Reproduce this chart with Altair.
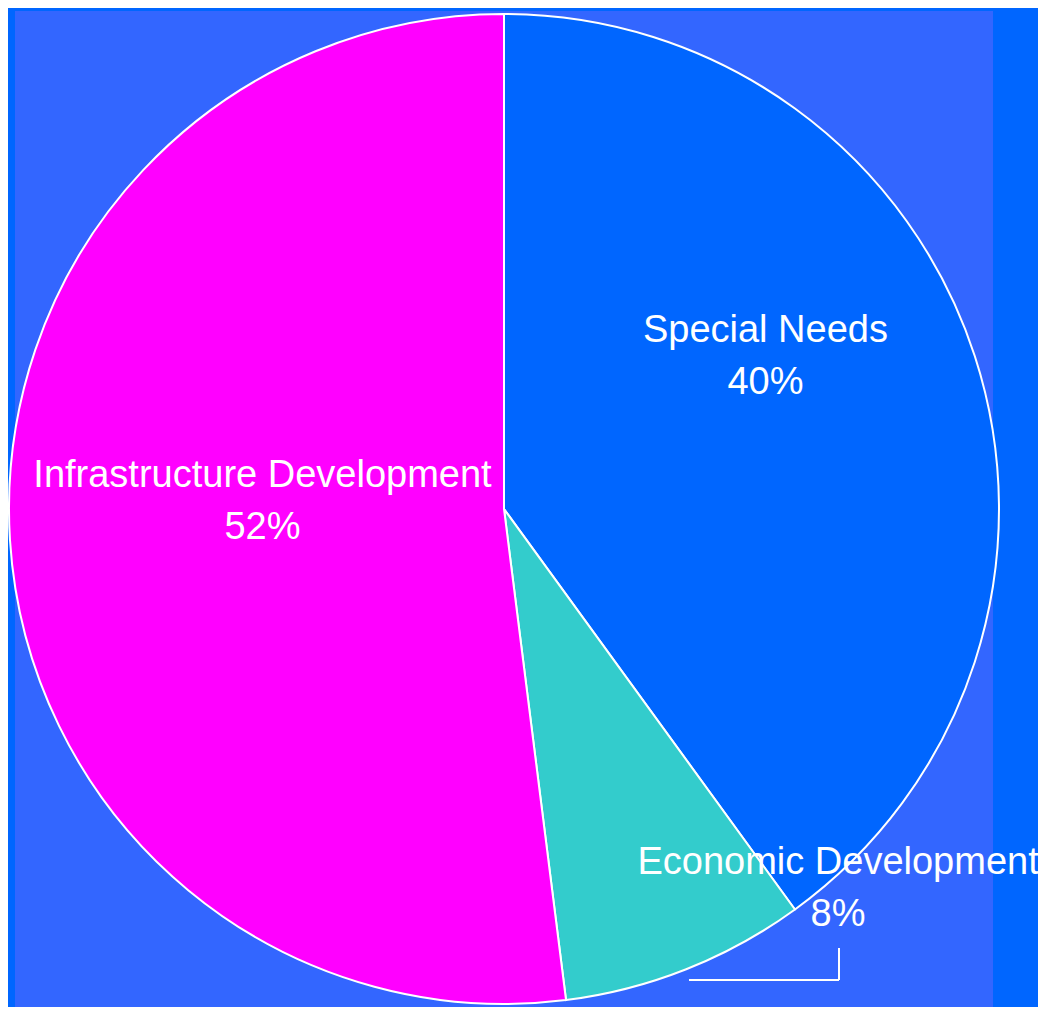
import altair as alt
import pandas as pd

categories = ["Special Needs", "Economic Development", "Infrastructure Development"]
values = [40, 8, 52]
colors = ["#0066FF", "#33CCCC", "#FF00FF"]

df = pd.DataFrame({"category": categories, "value": values, "idx": list(range(len(categories)))})

base = alt.Chart(df)
theta_scale = alt.Scale(domain=[0, 100])

pie = base.mark_arc(radius=495, stroke="white", strokeWidth=2).encode(
    theta=alt.Theta("value:Q", stack=True, scale=theta_scale),
    color=alt.Color("category:N", scale=alt.Scale(domain=categories, range=colors), legend=None),
    order=alt.Order("idx:Q", sort="ascending"),
)

lab = base.transform_window(
    cum="sum(value)", sort=[alt.SortField("idx", order="ascending")], frame=[None, 0]
).transform_calculate(
    mid="datum.cum - datum.value / 2",
    label="datum.category + '\\n' + datum.value + '%'",
)


def label_layer(cat, r, dx, dy):
    return lab.transform_filter(alt.datum.category == cat).mark_text(
        radius=r, dx=dx, dy=dy, align="center", baseline="alphabetic",
        lineBreak="\n", lineHeight=52, font="Liberation Sans", fontSize=38, color="white",
    ).encode(
        theta=alt.Theta("mid:Q", stack=None, scale=theta_scale),
        text="label:N",
    )


t1 = label_layer("Special Needs", 298, -22, -75)
t2 = label_layer("Economic Development", 462, 164, -65)
t3 = label_layer("Infrastructure Development", 242, 0, -37)

leader_h = base.mark_rule(color="white", strokeWidth=2).encode(
    x=alt.value(674), x2=alt.value(824), y=alt.value(969)
).transform_filter(alt.datum.idx == 1)
leader_v = base.mark_rule(color="white", strokeWidth=2).encode(
    x=alt.value(824), y=alt.value(937), y2=alt.value(969)
).transform_filter(alt.datum.idx == 1)

chart = alt.layer(pie, leader_h, leader_v, t1, t2, t3).properties(
    width=978,
    height=996,
    autosize=alt.AutoSizeParams(type="none"),
    padding={"left": 7, "top": 3, "right": 45, "bottom": 0},
    background="#0066FF",
).configure_view(fill="#3366FF", strokeWidth=0)

chart.save("out.html", embed_options={"renderer": "svg", "actions": False})
